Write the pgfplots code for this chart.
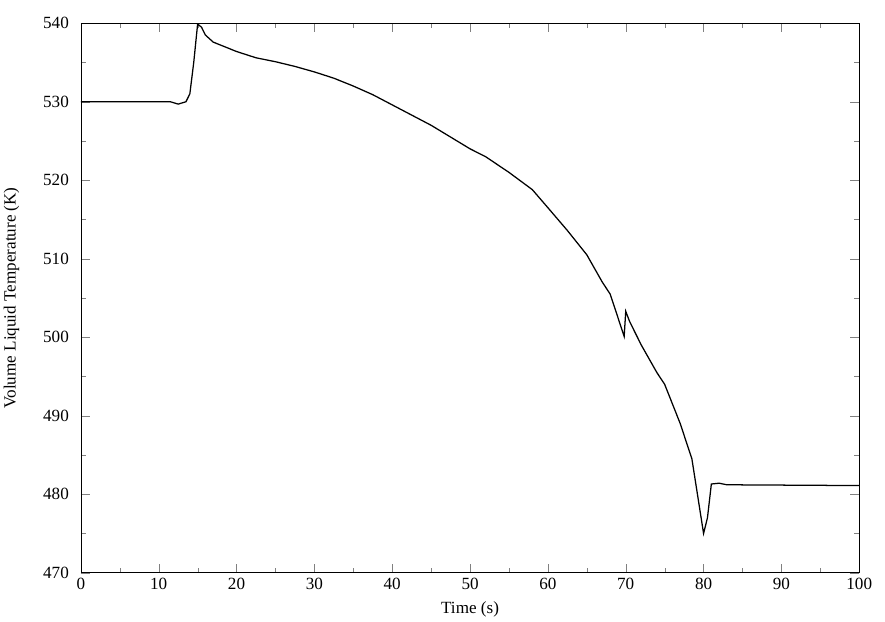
\documentclass[border={0pt 0pt 8pt 12pt}]{standalone}
\usepackage{pgfplots}
\pgfplotsset{compat=1.18}
\usepackage{fontspec}
\setmainfont{Liberation Serif}
\begin{document}
\begin{tikzpicture}
\begin{axis}[scale only axis, width=680bp, height=480bp,
  xmin=0,xmax=100,ymin=470,ymax=540,
  xtick={0,10,...,100}, ytick={470,480,...,540},
  minor x tick num=1, minor y tick num=1,
  tick align=inside, tick pos=both,
  major tick length=8bp, minor tick length=4.5bp,
  /pgf/number format/assume math mode=true,
  ticklabel style={font=\fontsize{15}{17}\selectfont},
  yticklabel style={xshift=-7bp},
  xticklabel style={yshift=-1bp},
  label style={font=\fontsize{15}{17}\selectfont},
  xlabel={Time (s)}, ylabel={Volume Liquid Temperature (K)},
  xlabel style={yshift=-4bp}, ylabel style={yshift=14bp},
  /pgf/number format/set thousands separator={}]
\addplot[black, line width=1.1bp] coordinates {
(0,530)(11.5,530)(12.5,529.7)(13.5,530.0)(14,531)(14.5,535)(15,539.9)(15.5,539.5)(16,538.5)(17,537.6)(18.5,537)(20,536.4)(22.5,535.6)(25,535.1)(27.5,534.5)(30,533.8)(32.5,533)(35,532)(37.5,530.9)(40,529.6)(42.5,528.3)(45,527)(47.5,525.5)(50,524)(52,523)(55,521)(58,518.8)(60,516.5)(62.5,513.6)(65,510.5)(67,507)(68,505.5)(69.8,500.1)(70,503.3)(70.5,502)(72,499)(74,495.5)(75,494)(77,489)(78.5,484.5)(80,475)(80.5,477)(81,481.3)(82,481.4)(83,481.2)(100,481.1)};
\end{axis}
\end{tikzpicture}
\end{document}
